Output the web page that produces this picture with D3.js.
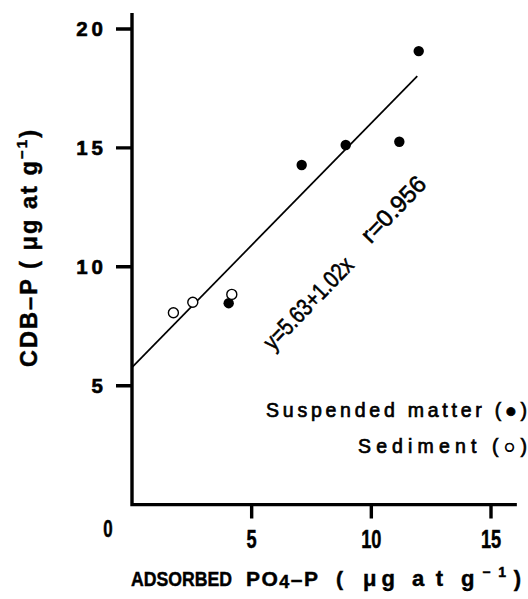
<!DOCTYPE html>
<html>
<head>
<meta charset="utf-8">
<script src="https://cdn.jsdelivr.net/npm/d3@7"></script>
<style>
  html, body { margin: 0; padding: 0; background: #fff; }
  svg { display: block; }
</style>
</head>
<body>
<svg id="chart" width="528" height="599" xmlns="http://www.w3.org/2000/svg"></svg>
<script>
// ---- data ----
const suspendedX = [4.04, 7.09, 8.93, 11.17, 11.98];
const suspendedY = [8.47, 14.28, 15.12, 15.26, 19.07];
const sedimentX  = [1.73, 2.54, 4.17];
const sedimentY  = [8.07, 8.51, 8.84];
const fitX = [0, 11.92];
const fitY = [5.77, 18.02];
const xTicks = [5, 10, 15];
const yTicks = [5, 10, 15, 20];
const eqText = "y=5.63+1.02x";
const rText = "r=0.956";
const legendLabels = ["Suspended matter (\u25CF)", "Sediment  (\u25CB)"];

const svg = d3.select("#chart");
const x = d3.scaleLinear().domain([0, 15]).range([132, 491]);
const y = d3.scaleLinear().domain([0, 20]).range([504.6, 29]);
const xMax = 16.08, yMax = 20.67;

const font = "'Liberation Sans', Arial, Helvetica, sans-serif";

// axes
const p = d3.path();
p.moveTo(x(0), y(yMax)); p.lineTo(x(0), y(0)); p.lineTo(x(xMax), y(0));
svg.append("path")
  .attr("d", p.toString())
  .attr("fill", "none").attr("stroke", "#000")
  .attr("stroke-width", 3.4).attr("stroke-linejoin", "miter");

// ticks
const t = d3.path();
xTicks.forEach(d => { t.moveTo(x(d), y(0)); t.lineTo(x(d), y(0) + 14); });
yTicks.forEach(d => { t.moveTo(x(0), y(d)); t.lineTo(x(0) - 16, y(d)); });
svg.append("path")
  .attr("d", t.toString())
  .attr("fill", "none").attr("stroke", "#000")
  .attr("stroke-width", 3.4);

// x tick labels
svg.selectAll("text.xlab").data(xTicks).join("text")
  .attr("class", "xlab")
  .attr("transform", d => `translate(${x(d)},${y(0) + 43.5}) scale(0.7,1)`)
  .attr("text-anchor", "middle")
  .attr("font-family", font).attr("font-weight", "bold").attr("font-size", 26)
  .attr("stroke", "#000").attr("stroke-width", 0.5)
  .text(d => d3.format("d")(d));

// y tick labels
svg.selectAll("text.ylab").data(yTicks).join("text")
  .attr("class", "ylab")
  .attr("x", x(0) - 25).attr("y", d => y(d)).attr("dy", "0.36em")
  .attr("text-anchor", "end")
  .attr("font-family", font).attr("font-weight", "bold").attr("font-size", 20.5)
  .attr("letter-spacing", 4)
  .attr("stroke", "#000").attr("stroke-width", 0.6)
  .text(d => d3.format("d")(d));

// origin label "0"
svg.append("text")
  .attr("transform", `translate(${x(0) - 24},${y(0) + 32}) scale(0.72,1)`)
  .attr("text-anchor", "middle")
  .attr("font-family", font).attr("font-weight", "bold").attr("font-size", 23.5)
  .attr("stroke", "#000").attr("stroke-width", 0.5)
  .text("0");

// regression line
svg.append("line")
  .attr("x1", x(fitX[0])).attr("y1", y(fitY[0]))
  .attr("x2", x(fitX[1])).attr("y2", y(fitY[1]))
  .attr("stroke", "#000").attr("stroke-width", 1.7);

// points
svg.selectAll("circle.susp").data(suspendedX.map((d, i) => [d, suspendedY[i]]))
  .join("circle").attr("class", "susp")
  .attr("cx", d => x(d[0])).attr("cy", d => y(d[1])).attr("r", 5.2)
  .attr("fill", "#000");
svg.selectAll("circle.sed").data(sedimentX.map((d, i) => [d, sedimentY[i]]))
  .join("circle").attr("class", "sed")
  .attr("cx", d => x(d[0])).attr("cy", d => y(d[1])).attr("r", 5)
  .attr("fill", "#fff").attr("stroke", "#000").attr("stroke-width", 1.4);

// equation annotations (rotated, condensed)
function rotText(s, cx, cy, len) {
  svg.append("text")
    .attr("transform", `translate(${x(cx)},${y(cy)}) rotate(-46)`)
    .attr("text-anchor", "middle").attr("dy", "0.36em")
    .attr("font-family", font).attr("font-size", 24)
    .attr("stroke", "#000").attr("stroke-width", 0.6)
    .attr("textLength", len).attr("lengthAdjust", "spacingAndGlyphs")
    .text(s);
}
rotText(eqText, 7.35, 8.48, 118);
rotText(rText, 10.91, 12.43, 82);

// legend
const legendStart = [266, 358];
const legendBase = [417, 453];
legendLabels.forEach((s, i) => {
  svg.append("text")
    .attr("x", legendStart[i]).attr("y", legendBase[i])
    .attr("font-family", font).attr("font-size", 19.5)
    .attr("stroke", "#000").attr("stroke-width", 0.7)
    .attr("textLength", 527 - legendStart[i]).attr("lengthAdjust", "spacing")
    .text(s);
});

// x axis title, laid out word by word as in the reference
const xWords = [
  {x: 131, w: 101, fs: 20, adj: "spacingAndGlyphs", parts: [["ADSORBED"]]},
  {x: 246, w: 72, fs: 21, adj: "spacing", parts: [["PO"], ["4", "sub"], ["\u2013P"]]},
  {x: 336, w: 7, fs: 21, adj: "spacing", parts: [["("]]},
  {x: 363, w: 32, fs: 22, adj: "spacing", parts: [["\u03BCg"]]},
  {x: 412, w: 31, fs: 22, adj: "spacing", parts: [["at"]]},
  {x: 461, w: 60, fs: 22, adj: "spacing", parts: [["g"], ["\u22121", "sup"], [")"]]}
];
xWords.forEach(wd => {
  const g = svg.append("text")
    .attr("x", wd.x).attr("y", 585.7)
    .attr("font-family", font).attr("font-weight", "bold").attr("font-size", wd.fs)
    .attr("stroke", "#000").attr("stroke-width", 0.45)
    .attr("textLength", wd.w).attr("lengthAdjust", wd.adj);
  let shift = 0;
  wd.parts.forEach(q => {
    const ts = g.append("tspan").text(q[0]);
    if (q[1] === "sub") { ts.attr("font-size", 18).attr("dy", 2 - shift); shift = 2; }
    else if (q[1] === "sup") { ts.attr("font-size", 14).attr("dy", -9 - shift); shift = -9; }
    else if (shift !== 0) { ts.attr("dy", -shift); shift = 0; }
  });
});

// y axis title
const yt = svg.append("text")
  .attr("transform", "translate(37,367) rotate(-90)")
  .attr("font-family", font).attr("font-weight", "bold").attr("font-size", 23.5)
  .attr("stroke", "#000").attr("stroke-width", 0.45)
  .attr("textLength", 237).attr("lengthAdjust", "spacing");
yt.append("tspan").text("CDB\u2013P ( \u03BCg at g");
yt.append("tspan").attr("font-size", 15).attr("dy", -10).text("\u22121");
yt.append("tspan").attr("dy", 10).text(")");
</script>
</body>
</html>
